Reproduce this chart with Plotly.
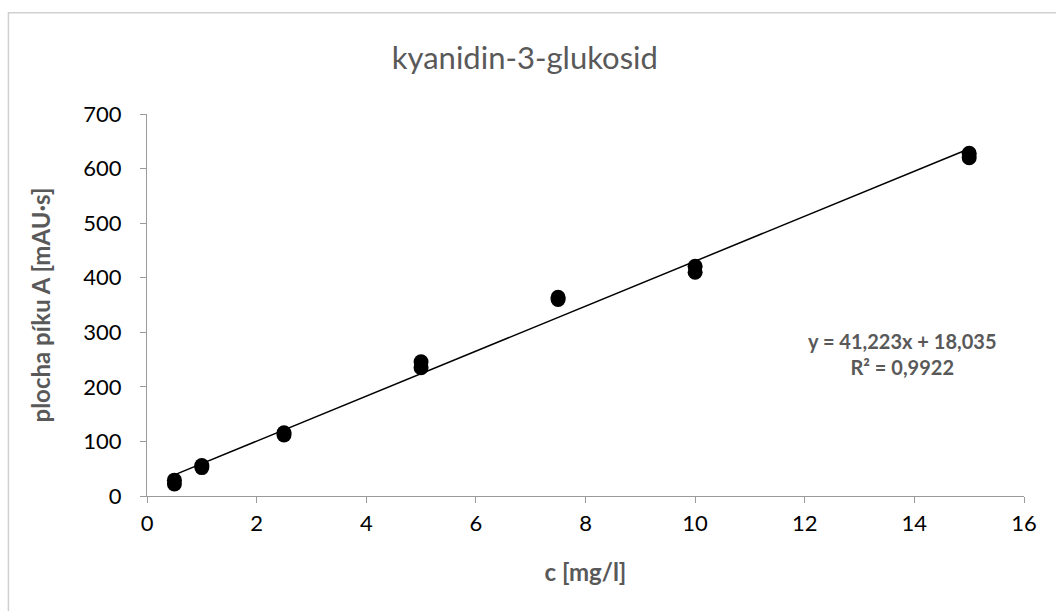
import plotly.graph_objects as go

conc = [0.5, 0.5, 1, 1, 2.5, 2.5, 5, 5, 7.5, 7.5, 10, 10, 15, 15]
area = [22, 29, 52, 56, 112, 116, 235, 246, 360, 364, 410, 421, 620, 628]
slope = 41.223
intercept = 18.035
trend_x = [0.5, 15]
trend_y = [slope * v + intercept for v in trend_x]
x_ticks = [0, 2, 4, 6, 8, 10, 12, 14, 16]
y_ticks = [0, 100, 200, 300, 400, 500, 600, 700]

fig = go.Figure()
fig.add_trace(go.Scatter(x=trend_x, y=trend_y, mode="lines",
                         line=dict(color="black", width=1.5), showlegend=False, hoverinfo="skip"))
fig.add_trace(go.Scatter(x=conc, y=area, mode="markers",
                         marker=dict(color="black", size=15), showlegend=False))

font_fam = "Lato, 'Open Sans', sans-serif"
fig.update_layout(
    width=1056, height=611,
    margin=dict(l=147, r=32, t=114, b=115),
    paper_bgcolor="white", plot_bgcolor="white",
    title=dict(text="kyanidin-3-glukosid", x=0.497, xanchor="center", y=0.905, yanchor="middle",
               font=dict(family=font_fam, size=31, color="#595959")),
    xaxis=dict(range=[0, 16], tickvals=x_ticks, showgrid=False, zeroline=False,
               showline=True, linecolor="#9a9a9a", linewidth=1,
               ticks="outside", ticklen=6, tickcolor="#9a9a9a", ticklabelstandoff=2,
               tickfont=dict(family=font_fam, size=22, color="black"),
               title=dict(text="<b>c [mg/l]</b>", standoff=28,
                          font=dict(family=font_fam, size=24, color="#595959"))),
    yaxis=dict(range=[0, 700], tickvals=y_ticks, showgrid=False, zeroline=False,
               showline=True, linecolor="#9a9a9a", linewidth=1,
               ticks="outside", ticklen=6, tickcolor="#9a9a9a", ticklabelstandoff=14,
               tickfont=dict(family=font_fam, size=22, color="black"),
               title=dict(text="<b>plocha píku A [mAU·s]</b>", standoff=25,
                          font=dict(family=font_fam, size=24, color="#595959"))),
)
fig.add_annotation(text="<b>y = 41,223x + 18,035<br>R² = 0,9922</b>", xref="paper", yref="paper",
                   x=0.862, y=0.373, xanchor="center", yanchor="middle", showarrow=False, align="center",
                   font=dict(family=font_fam, size=20, color="#595959"))
fig.add_shape(type="rect", xref="paper", yref="paper", x0=-0.158, y0=-0.6, x1=1.5, y1=1.265,
              line=dict(color="#d0d0d0", width=1.5), layer="below")
fig.write_html("out.html")
